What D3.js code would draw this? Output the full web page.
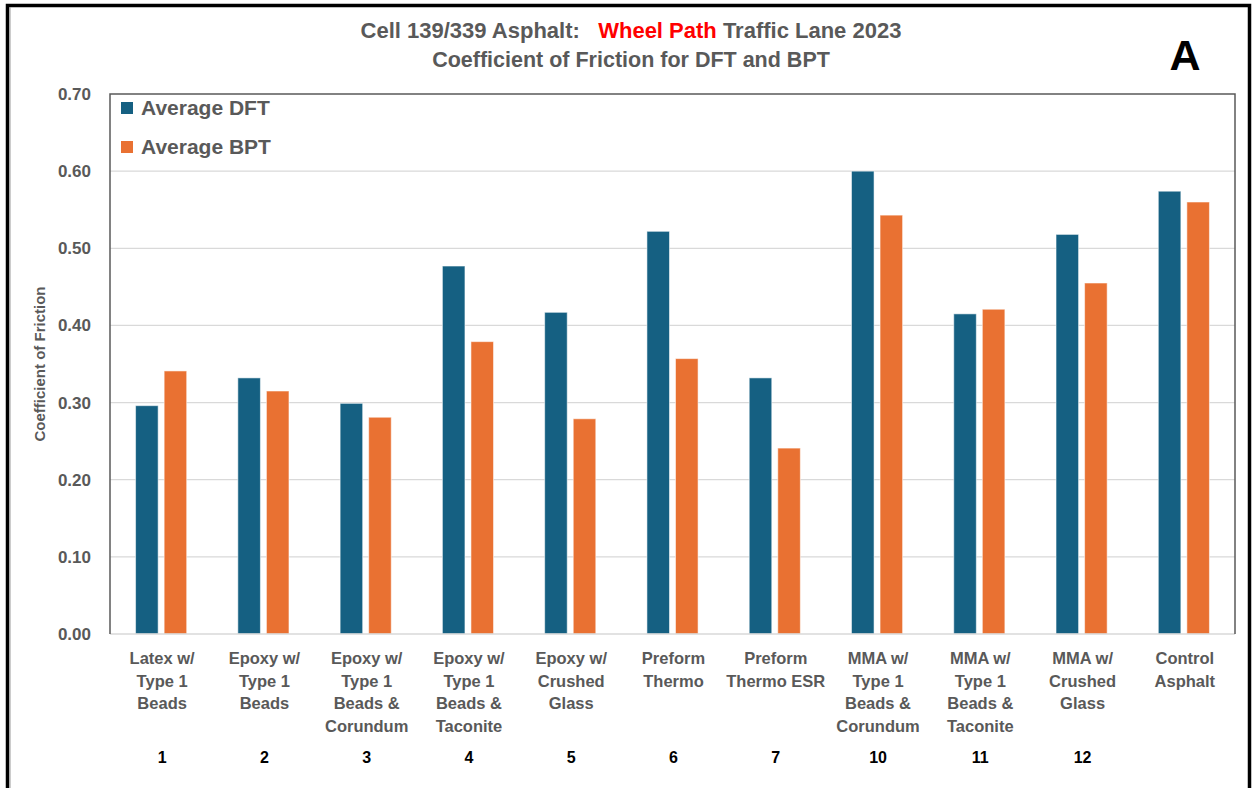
<!DOCTYPE html>
<html>
<head>
<meta charset="utf-8">
<script src="https://cdn.jsdelivr.net/npm/d3@7"></script>
<style>
  html, body { margin: 0; padding: 0; background: #fff; }
  svg { display: block; }
  text { font-family: "Liberation Sans", Arial, sans-serif; }
</style>
</head>
<body>
<svg id="chart" width="1252" height="788"></svg>
<script>
// Treatments (multi-line labels) and their cell numbers
const categories = [
  "Latex w/\nType 1\nBeads",
  "Epoxy w/\nType 1\nBeads",
  "Epoxy w/\nType 1\nBeads &\nCorundum",
  "Epoxy w/\nType 1\nBeads &\nTaconite",
  "Epoxy w/\nCrushed\nGlass",
  "Preform\nThermo",
  "Preform\nThermo ESR",
  "MMA w/\nType 1\nBeads &\nCorundum",
  "MMA w/\nType 1\nBeads &\nTaconite",
  "MMA w/\nCrushed\nGlass",
  "Control\nAsphalt"
];
const cellNumbers = ["1", "2", "3", "4", "5", "6", "7", "10", "11", "12", ""];

// Average coefficient of friction per treatment
const dftValues = [0.296, 0.332, 0.299, 0.477, 0.417, 0.522, 0.332, 0.600, 0.415, 0.518, 0.574];
const bptValues = [0.341, 0.315, 0.281, 0.379, 0.279, 0.357, 0.241, 0.543, 0.421, 0.455, 0.560];

const seriesNames = ["Average DFT", "Average BPT"];
const seriesColors = ["#156082", "#E97132"];
const yTicks = [0, 0.1, 0.2, 0.3, 0.4, 0.5, 0.6, 0.7];

const svg = d3.select("#chart");
const W = 1252, H = 788;
const plot = { left: 110, right: 1235, top: 94, bottom: 634 };
const grey = "#595959";

// Outer frame
svg.append("rect")
  .attr("x", 7.5).attr("y", 5.5)
  .attr("width", 1242).attr("height", 800)
  .attr("fill", "#fff").attr("stroke", "#000").attr("stroke-width", 3.5);
svg.append("line")
  .attr("x1", 10).attr("x2", 10).attr("y1", 7).attr("y2", H)
  .attr("stroke", "#999").attr("stroke-width", 1);

// Scales
const x = d3.scaleBand()
  .domain(d3.range(categories.length))
  .range([plot.left, plot.right])
  .paddingInner(0.5)
  .paddingOuter(0.25);
const x1 = d3.scaleBand()
  .domain([0, 1])
  .range([0, x.bandwidth()])
  .paddingInner(0.21);
const y = d3.scaleLinear().domain([0, 0.7]).range([plot.bottom, plot.top]);

// Gridlines
svg.append("g")
  .selectAll("line")
  .data(yTicks.slice(1, -1))
  .join("line")
  .attr("x1", plot.left).attr("x2", plot.right)
  .attr("y1", d => y(d)).attr("y2", d => y(d))
  .attr("stroke", "#d9d9d9").attr("stroke-width", 1.3);

// Bars
const rows = categories.map((c, i) => [dftValues[i], bptValues[i]]);
svg.append("g")
  .selectAll("g")
  .data(rows)
  .join("g")
  .attr("transform", (d, i) => `translate(${x(i)},0)`)
  .selectAll("rect")
  .data(d => d.map((v, s) => ({ v, s })))
  .join("rect")
  .attr("x", d => x1(d.s))
  .attr("width", x1.bandwidth())
  .attr("y", d => y(d.v))
  .attr("height", d => y(0) - y(d.v))
  .attr("fill", d => seriesColors[d.s])
  .attr("stroke", "#fff").attr("stroke-opacity", 0.55).attr("stroke-width", 1);

// Baseline and plot border
svg.append("line")
  .attr("x1", plot.left).attr("x2", plot.right)
  .attr("y1", y(0)).attr("y2", y(0))
  .attr("stroke", "#d9d9d9").attr("stroke-width", 1.5);
svg.append("path")
  .attr("d", `M${plot.left},${plot.bottom}V${plot.top}H${plot.right}V${plot.bottom}`)
  .attr("fill", "none").attr("stroke", grey).attr("stroke-width", 1.5);

// Y axis labels
const yAxis = d3.axisLeft(y).tickValues(yTicks).tickFormat(d3.format(".2f")).tickSize(0).tickPadding(19);
const ya = svg.append("g").attr("transform", `translate(${plot.left},0)`).call(yAxis);
ya.select(".domain").remove();
ya.selectAll("text")
  .attr("fill", grey)
  .style("font-size", "17px").style("font-weight", "bold")
  .style("font-family", "'Liberation Sans', Arial, sans-serif");

svg.append("text")
  .attr("transform", "translate(45,364) rotate(-90)")
  .attr("text-anchor", "middle")
  .attr("fill", grey)
  .style("font-size", "15px").style("font-weight", "bold")
  .text("Coefficient of Friction");

// Category labels
const catG = svg.append("g");
categories.forEach((c, i) => {
  const cx = x(i) + x.bandwidth() / 2 + 1;
  const t = catG.append("text")
    .attr("text-anchor", "middle")
    .attr("fill", grey)
    .style("font-size", "16.5px").style("font-weight", "bold");
  c.split("\n").forEach((line, k) => {
    t.append("tspan").attr("x", cx).attr("y", 664 + k * 22.6).text(line);
  });
  catG.append("text")
    .attr("x", cx).attr("y", 763)
    .attr("text-anchor", "middle")
    .attr("fill", "#000")
    .style("font-size", "16px").style("font-weight", "bold")
    .text(cellNumbers[i]);
});

// Legend
const lg = svg.append("g");
seriesNames.forEach((name, s) => {
  const cy = 108 + s * 39;
  lg.append("rect")
    .attr("x", 121).attr("y", cy - 6).attr("width", 12).attr("height", 12)
    .attr("fill", seriesColors[s]);
  lg.append("text")
    .attr("x", 141).attr("y", cy + 7)
    .attr("fill", grey)
    .style("font-size", "21px").style("font-weight", "bold")
    .text(name);
});

// Titles
const title1 = svg.append("text")
  .attr("x", 631).attr("y", 38)
  .attr("text-anchor", "middle")
  .attr("fill", grey)
  .style("font-size", "22px").style("font-weight", "bold")
  .style("white-space", "pre");
title1.append("tspan").text("Cell 139/339 Asphalt:   ");
title1.append("tspan").attr("fill", "#ff0000").text("Wheel Path");
title1.append("tspan").text(" Traffic Lane 2023");

svg.append("text")
  .attr("x", 631).attr("y", 67)
  .attr("text-anchor", "middle")
  .attr("fill", grey)
  .style("font-size", "21.5px").style("font-weight", "bold")
  .text("Coefficient of Friction for DFT and BPT");

svg.append("text")
  .attr("x", 1185).attr("y", 70)
  .attr("text-anchor", "middle")
  .attr("fill", "#000")
  .style("font-size", "43px").style("font-weight", "bold")
  .text("A");
</script>
</body>
</html>
